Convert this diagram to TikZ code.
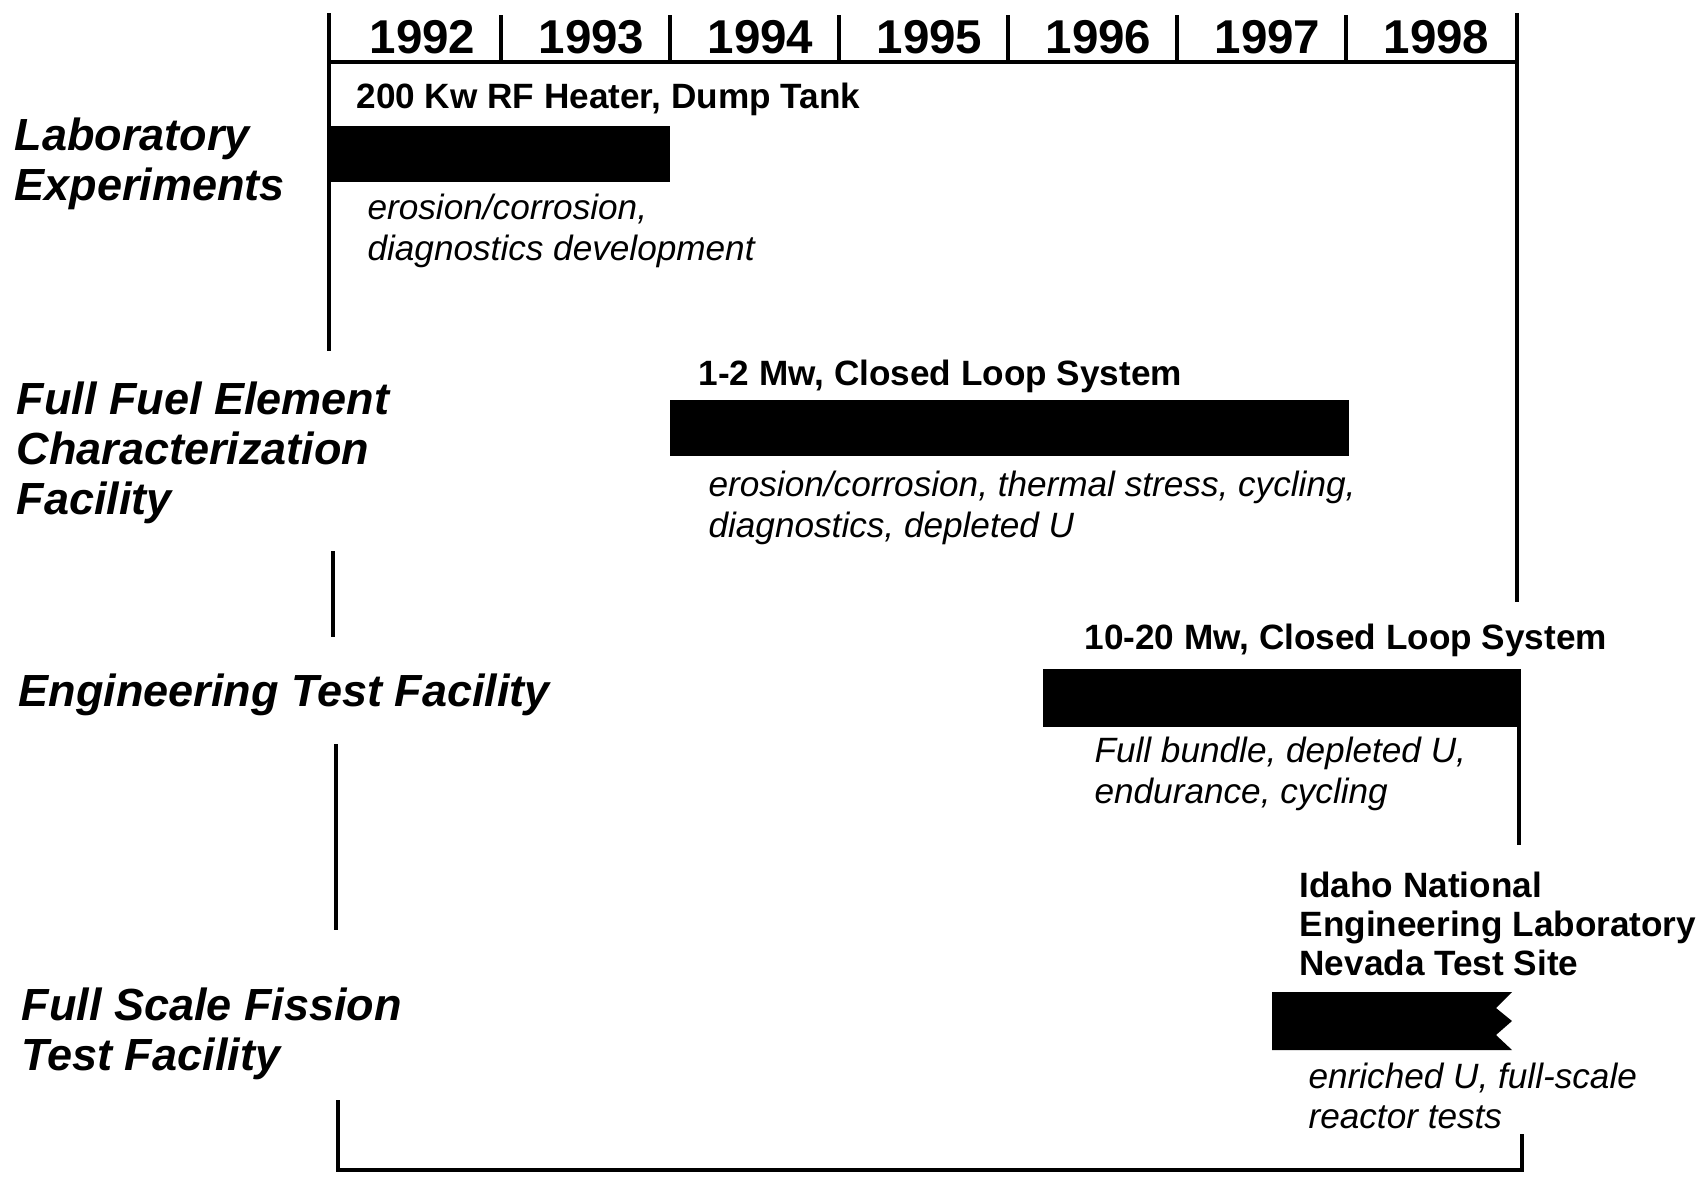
\documentclass[tikz,border=0pt]{standalone}
\usepackage{fontspec}
\setmainfont{Liberation Sans}
\usetikzlibrary{positioning}

\begin{document}
\begin{tikzpicture}[x=0.01cm, y=-0.01cm, line width=0.9pt,
   rowlabel/.style={anchor=west, align=left, inner sep=0pt, font=\fontsize{12.8}{14.2}\selectfont\bfseries\itshape},
   tag/.style={anchor=west, align=left, inner sep=0pt, font=\fontsize{10}{11.1}\selectfont\bfseries},
   note/.style={anchor=west, align=left, inner sep=0pt, font=\fontsize{10}{11.5}\selectfont\itshape},
   yearlabel/.style={inner sep=0pt, font=\fontsize{13.5}{14}\selectfont\bfseries},
   bar/.style={fill=black}]
   \useasboundingbox (0,0) rectangle (1702,1178);

   % Year header
   \draw (329,13) -- (329,351);
   \draw (329,62) -- (1517,62);
   \draw (1517,13) -- (1517,602);
   \foreach \x in {501,670,839,1008,1177,1346}
      \draw (\x,15) -- (\x,62);
   \foreach \yr [count=\i] in {1992,1993,1994,1995,1996,1997,1998}
      \node[yearlabel] (y\yr) at ({338+169*(\i-0.5)}, 37) {\yr};

   % Frame pieces between the rows
   \draw (333,551) -- (333,637);
   \draw (336,744) -- (336,930);
   \draw (338,1100) -- (338,1170) -- (1522,1170) -- (1522,1134);
   \draw (1519,727) -- (1519,845);

   % Row labels
   \node[rowlabel] (lab) at (13,164) {Laboratory\\Experiments};
   \node[rowlabel] (ffe) at (15,453) {Full Fuel Element\\Characterization\\Facility};
   \node[rowlabel] (etf) at (17,695) {Engineering Test Facility};
   \node[rowlabel] (fsf) at (20,1034) {Full Scale Fission\\Test Facility};

   % Bars
   \fill[bar] (329,126) rectangle (670,182);
   \fill[bar] (670,400) rectangle (1349,456);
   \fill[bar] (1043,669) rectangle (1521,727);
   \fill[bar] (1272,992) -- (1512,992) -- (1496,1008) -- (1512,1021)
      -- (1496,1035) -- (1512,1050) -- (1272,1050) -- cycle;

   % Bar titles
   \node[tag] (labtag) at (355,99) {200 Kw RF Heater, Dump Tank};
   \node[tag] (ffetag) at (697,376) {1-2 Mw, Closed Loop System};
   \node[tag] (etftag) at (1083,640) {10-20 Mw, Closed Loop System};
   \node[tag] (fsftag) at (1298,924) {Idaho National\\Engineering Laboratory\\Nevada Test Site};

   % Bar notes
   \node[note] (labnote) at (366,231) {erosion/corrosion,\\diagnostics development};
   \node[note] (ffenote) at (707,508) {erosion/corrosion, thermal stress, cycling,\\diagnostics, depleted U};
   \node[note] (etfnote) at (1093,774) {Full bundle, depleted U,\\endurance, cycling};
   \node[note] (fsfnote) at (1307,1096) {enriched U, full-scale\\reactor tests};
\end{tikzpicture}
\end{document}
